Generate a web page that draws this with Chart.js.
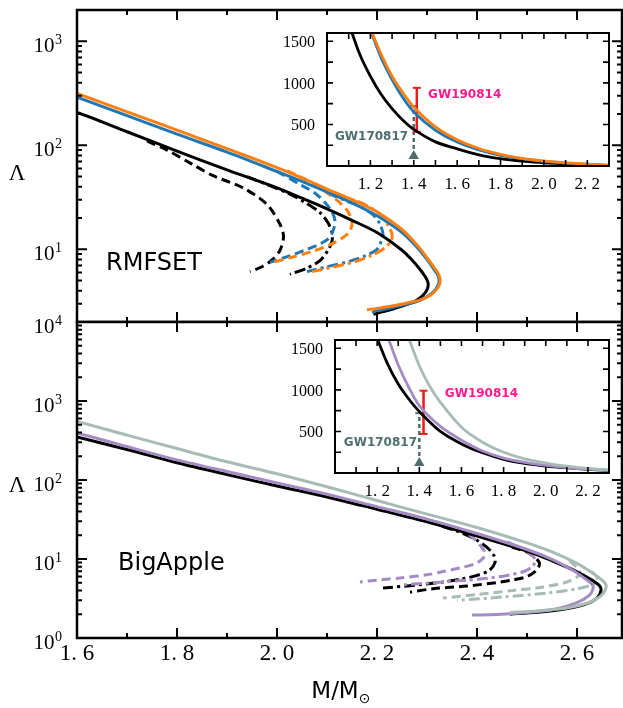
<!DOCTYPE html>
<html>
<head>
<meta charset="utf-8">
<script src="https://cdn.jsdelivr.net/npm/chart.js@4.4.1/dist/chart.umd.min.js"></script>
<style>
html, body { margin: 0; padding: 0; background: #fff; overflow: hidden; }
#wrap { position: relative; width: 623px; height: 708px; }
canvas { position: absolute; left: 0; top: 0; }
</style>
</head>
<body>
<div id="wrap">
	<canvas id="graficoRmfset" width="623" height="708"></canvas>
	<canvas id="graficoBigApple" width="623" height="708"></canvas>
	<canvas id="insetRmfset" width="623" height="708"></canvas>
	<canvas id="insetBigApple" width="623" height="708"></canvas>
</div>
<script>
// ticks
var massTicksMain = [1.6, 1.8, 2.0, 2.2, 2.4, 2.6];
var massTicksInset = [1.2, 1.4, 1.6, 1.8, 2.0, 2.2];
var lambdaTicksInset = [500, 1000, 1500];
var expTicksRmfset = [1, 2, 3];
var expTicksBigApple = [0, 1, 2, 3, 4];

// RMFSET  [M/Msun, Lambda]
var rmfsetBlack = [[1.1,1720],[1.15,1350],[1.2,1080],[1.25,860],[1.3,690],[1.35,550],[1.4,440],[1.5,290],[1.6,207],[1.7,135],[1.8,88],[1.9,58],[2.0,39],[2.05,31],[2.1,24.5],[2.15,19],[2.2,14.5],[2.25,9.8],[2.27,7.9],[2.285,6.5],[2.296,5.5],[2.302,4.8],[2.301,4.2],[2.294,3.7],[2.28,3.25],[2.26,2.95],[2.235,2.7],[2.21,2.5],[2.193,2.37]];
var rmfsetBlue = [[1.19,1720],[1.2,1640],[1.25,1300],[1.3,1040],[1.35,820],[1.4,650],[1.5,430],[1.6,290],[1.7,193],[1.8,128],[1.9,86],[2.0,56],[2.05,45],[2.1,35.5],[2.15,28],[2.2,21],[2.25,14.5],[2.28,10.5],[2.3,8],[2.313,6.5],[2.321,5.7],[2.324,5.1],[2.322,4.5],[2.314,3.95],[2.3,3.5],[2.28,3.15],[2.25,2.9],[2.22,2.68],[2.19,2.48]];
var rmfsetOrange = [[1.19,1760],[1.2,1660],[1.25,1340],[1.3,1080],[1.35,880],[1.4,710],[1.5,470],[1.6,316],[1.7,210],[1.8,140],[1.9,93],[2.0,61],[2.05,48.5],[2.1,38],[2.15,30],[2.2,23],[2.25,15.5],[2.28,11],[2.3,8.3],[2.313,6.8],[2.322,5.9],[2.326,5.2],[2.325,4.6],[2.318,4.05],[2.306,3.6],[2.285,3.25],[2.26,3.05],[2.23,2.85],[2.2,2.7],[2.18,2.62]];
var rmfsetBlackDash = [[1.74,110],[1.78,90],[1.83,66],[1.872,51],[1.932,39],[1.98,27],[2.006,17.4],[2.013,13.3],[2.006,9.8],[1.99,7.9],[1.97,6.8],[1.946,6.1]];
var rmfsetBlackDashDot = [[1.94,50],[1.98,42],[2.026,34],[2.06,27.5],[2.086,22.5],[2.102,18],[2.11,14.5],[2.11,12],[2.102,9.8],[2.086,7.8],[2.06,6.6],[2.026,5.75]];
var rmfsetBlueDash = [[2.0,56],[2.05,41],[2.075,35],[2.095,28.5],[2.11,23],[2.116,18.5],[2.112,15],[2.104,12.8],[2.085,11.2],[2.06,10],[2.03,8.8],[1.986,7.5]];
var rmfsetOrangeDash = [[2.02,57],[2.06,46],[2.1,35],[2.126,28],[2.142,23],[2.15,18.5],[2.146,15],[2.132,13],[2.11,11.3],[2.072,9.6],[2.03,8.4],[1.992,7.5]];
var rmfsetBlueDashDot = [[2.1,35],[2.14,29],[2.166,26],[2.192,21.5],[2.206,17.5],[2.212,14],[2.21,12.5],[2.2,10],[2.18,8.8],[2.146,7.7],[2.1,6.8],[2.06,6.1]];
var rmfsetOrangeDashDot = [[2.12,34],[2.15,30],[2.172,27.5],[2.206,21.7],[2.222,17],[2.23,14],[2.228,12],[2.212,10],[2.19,8.8],[2.16,7.7],[2.115,6.8],[2.07,6.1]];

// BigApple  [M/Msun, Lambda]
var bigAppleBlack = [[1.19,1700],[1.2,1620],[1.25,1310],[1.3,1070],[1.35,890],[1.4,740],[1.5,500],[1.6,350],[1.7,243],[1.8,165],[1.9,117],[2.0,84],[2.1,61],[2.2,42.5],[2.3,29.5],[2.4,19.5],[2.5,12.6],[2.55,9.5],[2.6,6.9],[2.63,5.4],[2.645,4.6],[2.648,4.0],[2.64,3.2],[2.615,2.65],[2.57,2.3],[2.52,2.12],[2.466,2.0]];
var bigApplePurple = [[1.25,1640],[1.3,1300],[1.35,1030],[1.4,810],[1.5,560],[1.6,395],[1.7,265],[1.8,180],[1.9,128],[2.0,92],[2.1,66],[2.2,46],[2.3,32],[2.4,21],[2.5,13.2],[2.55,9.9],[2.59,7.3],[2.615,5.7],[2.63,4.8],[2.632,4.2],[2.625,3.5],[2.6,2.8],[2.56,2.35],[2.5,2.1],[2.44,1.98],[2.39,1.95]];
var bigAppleGrey = [[1.34,1700],[1.35,1620],[1.4,1290],[1.45,1040],[1.5,850],[1.6,550],[1.7,370],[1.8,250],[1.9,170],[2.0,120],[2.1,82],[2.2,55],[2.3,37],[2.4,25],[2.5,16],[2.55,12.3],[2.6,8.8],[2.63,6.7],[2.65,5.4],[2.658,4.7],[2.656,4.0],[2.645,3.3],[2.62,2.75],[2.58,2.4],[2.52,2.2],[2.466,2.1]];
var bigApplePurpleDash = [[2.36,25],[2.39,19],[2.406,15],[2.416,12],[2.412,10.2],[2.398,8.8],[2.366,7.7],[2.33,6.9],[2.3,6.3],[2.246,5.75],[2.2,5.4],[2.166,5.1]];
var bigAppleBlackDashDot = [[2.33,26],[2.36,22.5],[2.395,18],[2.42,14],[2.434,11],[2.436,9],[2.425,7.2],[2.4,6.2],[2.37,5.6],[2.332,5.1],[2.266,4.6],[2.212,4.3]];
var bigApplePurpleDashDot = [[2.46,16.5],[2.49,13.5],[2.508,11.5],[2.516,9.8],[2.512,8.2],[2.495,7],[2.46,6.2],[2.42,5.7],[2.38,5.4],[2.312,5.0],[2.252,4.7]];
var bigAppleBlackDash = [[2.47,14.2],[2.5,12.2],[2.518,10.2],[2.525,8.8],[2.52,7.3],[2.5,6.0],[2.47,5.4],[2.446,5.1],[2.38,4.55],[2.312,4.2],[2.266,3.8]];
var bigAppleGreyDash = [[2.585,9.5],[2.6,7.8],[2.606,6.8],[2.6,5.9],[2.575,5.0],[2.53,4.4],[2.472,4.0],[2.4,3.55],[2.332,3.2]];
var bigAppleGreyDashDot = [[2.628,7.0],[2.64,5.9],[2.636,4.9],[2.6,4.2],[2.54,3.7],[2.45,3.3],[2.36,3.0]];

// constraints at 1.4 Msun
var gw170817 = [[1.4,120],[1.4,720]];
var gw190814Rmfset = [[1.414,410],[1.414,940]];
var gw190814BigApple = [[1.42,470],[1.42,990]];

var PRETO = '#000000', AZUL = '#1f77b4', LARANJA = '#ff7f0e', ROXO = '#a58bc3', CINZA = '#a7bcb6';
var TRACO = [9, 5], TRACO_PONTO = [11, 4, 3, 4];
var SERIF = '"Liberation Serif", "DejaVu Serif", serif';
var SANS = '"DejaVu Sans", "Liberation Sans", sans-serif';

function pontos(arr) {
	return arr.map(function(p) { return { x: p[0], y: p[1] }; });
}

function curva(arr, cor, dash, largura) {
	return {
		data: pontos(arr),
		borderColor: cor,
		borderWidth: largura || 3,
		borderDash: dash || [],
		showLine: true,
		pointRadius: 0,
		fill: false,
		tension: 0.3
	};
}

function faixa(arr, cor, dash, estilos) {
	return {
		data: pontos(arr),
		borderColor: cor,
		backgroundColor: cor,
		borderWidth: 2.5,
		borderDash: dash || [],
		showLine: true,
		tension: 0,
		pointStyle: estilos || 'line',
		pointRadius: 4,
		pointBorderColor: cor,
		pointBackgroundColor: cor,
		pointBorderWidth: 2
	};
}

function passos(ini, fim, passo) {
	var r = [];
	for (var v = ini; v <= fim + 1e-9; v += passo) r.push(Math.round(v * 1000) / 1000);
	return r;
}

function minLog(lo, hi) {
	var r = [];
	for (var e = -1; e <= 5; e++) {
		for (var m = 2; m <= 9; m++) {
			var v = m * Math.pow(10, e);
			if (v >= lo && v <= hi) r.push(v);
		}
	}
	return r;
}

var moldura = {
	id: 'moldura',
	beforeDatasetsDraw: function(chart) {
		var a = chart.chartArea, ctx = chart.ctx;
		ctx.save();
		ctx.fillStyle = '#fff';
		ctx.fillRect(a.left, a.top, a.right - a.left, a.bottom - a.top);
		ctx.restore();
	},
	afterDraw: function(chart, args, o) {
		var ctx = chart.ctx, a = chart.chartArea, sx = chart.scales.x, sy = chart.scales.y;
		ctx.save();
		ctx.strokeStyle = '#000';
		ctx.lineWidth = o.tickWidth;
		ctx.beginPath();
		function tx(v, len) {
			var px = sx.getPixelForValue(v);
			if (px < a.left + 1 || px > a.right - 1) return;
			ctx.moveTo(px, a.bottom); ctx.lineTo(px, a.bottom - len);
			ctx.moveTo(px, a.top); ctx.lineTo(px, a.top + len);
		}
		function ty(v, len) {
			var py = sy.getPixelForValue(v);
			if (py < a.top + 1 || py > a.bottom - 1) return;
			ctx.moveTo(a.left, py); ctx.lineTo(a.left + len, py);
			ctx.moveTo(a.right, py); ctx.lineTo(a.right - len, py);
		}
		o.xMinor.forEach(function(v) { tx(v, o.minorLen); });
		o.xMajor.forEach(function(v) { tx(v, o.majorLen); });
		o.yMinor.forEach(function(v) { ty(v, o.minorLen); });
		o.yMajor.forEach(function(v) { ty(v, o.majorLen); });
		ctx.stroke();
		ctx.lineWidth = o.frameWidth;
		ctx.strokeRect(a.left, a.top, a.right - a.left, a.bottom - a.top);

		ctx.fillStyle = '#000';
		ctx.textBaseline = 'alphabetic';
		if (o.xLabels) {
			ctx.font = o.xFont;
			ctx.textAlign = 'center';
			o.xLabels.forEach(function(v) {
				ctx.fillText(v.toFixed(1).replace('.', '. '), sx.getPixelForValue(v), a.bottom + o.xOffset);
			});
		}
		if (o.yLabels) {
			ctx.font = o.yFont;
			ctx.textAlign = 'right';
			o.yLabels.forEach(function(v) {
				ctx.fillText(String(v), a.left - o.yOffset, sy.getPixelForValue(v) + o.yShift);
			});
		}
		if (o.yPow) {
			o.yPow.forEach(function(e) {
				var py = sy.getPixelForValue(Math.pow(10, e));
				var xr = a.left - 15;
				ctx.font = '14px ' + SERIF;
				var we = ctx.measureText(String(e)).width;
				ctx.textAlign = 'left';
				ctx.fillText(String(e), xr - we, py + 3);
				ctx.font = '21px ' + SERIF;
				var wb = ctx.measureText('10').width;
				ctx.fillText('10', xr - we - wb - 0.5, py + 11);
			});
		}
		(o.notes || []).forEach(function(n) {
			ctx.font = n.font;
			ctx.fillStyle = n.color;
			ctx.textAlign = n.align;
			ctx.textBaseline = 'middle';
			ctx.fillText(n.text, sx.getPixelForValue(n.x), sy.getPixelForValue(n.y));
		});
		(o.texts || []).forEach(function(t) {
			ctx.font = t.font;
			ctx.fillStyle = '#000';
			ctx.textAlign = t.align;
			ctx.textBaseline = 'alphabetic';
			ctx.fillText(t.text, t.x, t.y);
		});
		if (o.massTitle) {
			ctx.font = '23px ' + SANS;
			ctx.textAlign = 'left';
			var w1 = ctx.measureText('M/M').width;
			var x0 = o.massTitle[0] - (w1 + 12) / 2;
			ctx.fillText('M/M', x0, o.massTitle[1]);
			ctx.font = '14px ' + SANS;
			ctx.fillText('\u2299', x0 + w1, o.massTitle[1] + 5);
		}
		ctx.restore();
	}
};

function opcoes(padding, xMin, xMax, yType, yMin, yMax, frame) {
	return {
		responsive: false,
		animation: false,
		devicePixelRatio: 1,
		events: [],
		layout: { padding: padding },
		plugins: { legend: { display: false }, tooltip: { enabled: false }, moldura: frame },
		scales: {
			x: { type: 'linear', display: false, min: xMin, max: xMax },
			y: { type: yType, display: false, min: yMin, max: yMax }
		}
	};
}

var xMinorMain = passos(1.6, 2.7, 0.1);

new Chart(document.getElementById('graficoRmfset'), {
	type: 'scatter',
	plugins: [moldura],
	data: {
		datasets: [
			curva(rmfsetOrange, LARANJA),
			curva(rmfsetBlue, AZUL),
			curva(rmfsetBlack, PRETO),
			curva(rmfsetOrangeDash, LARANJA, TRACO),
			curva(rmfsetBlueDash, AZUL, TRACO),
			curva(rmfsetBlackDash, PRETO, TRACO),
			curva(rmfsetOrangeDashDot, LARANJA, TRACO_PONTO),
			curva(rmfsetBlueDashDot, AZUL, TRACO_PONTO),
			curva(rmfsetBlackDashDot, PRETO, TRACO_PONTO)
		]
	},
	options: opcoes({ left: 77, top: 10, right: 1, bottom: 386 }, 1.6, 2.69, 'logarithmic', 2, 2000, {
		xMajor: massTicksMain, xMinor: xMinorMain,
		yMajor: expTicksRmfset.map(function(e) { return Math.pow(10, e); }), yMinor: minLog(2, 2000),
		majorLen: 10, minorLen: 5, tickWidth: 2, frameWidth: 2.5,
		yPow: expTicksRmfset,
		texts: [
			{ text: '\u039B', x: 17, y: 180, font: '23px ' + SERIF, align: 'center' },
			{ text: 'RMFSET', x: 106, y: 270, font: '24px ' + SANS, align: 'left' }
		]
	})
});

new Chart(document.getElementById('graficoBigApple'), {
	type: 'scatter',
	plugins: [moldura],
	data: {
		datasets: [
			curva(bigAppleGrey, CINZA),
			curva(bigApplePurple, ROXO),
			curva(bigAppleBlack, PRETO),
			curva(bigAppleGreyDash, CINZA, TRACO),
			curva(bigAppleGreyDashDot, CINZA, TRACO_PONTO),
			curva(bigApplePurpleDash, ROXO, TRACO),
			curva(bigApplePurpleDashDot, ROXO, TRACO_PONTO),
			curva(bigAppleBlackDash, PRETO, TRACO),
			curva(bigAppleBlackDashDot, PRETO, TRACO_PONTO)
		]
	},
	options: opcoes({ left: 77, top: 322, right: 1, bottom: 70 }, 1.6, 2.69, 'logarithmic', 1, 10000, {
		xMajor: massTicksMain, xMinor: xMinorMain,
		yMajor: expTicksBigApple.map(function(e) { return Math.pow(10, e); }), yMinor: minLog(1, 10000),
		majorLen: 10, minorLen: 5, tickWidth: 2, frameWidth: 2.5,
		yPow: expTicksBigApple,
		xLabels: massTicksMain, xFont: '23px ' + SERIF, xOffset: 22,
		massTitle: [341, 698],
		texts: [
			{ text: '\u039B', x: 17, y: 492, font: '23px ' + SERIF, align: 'center' },
			{ text: 'BigApple', x: 118, y: 570, font: '24px ' + SANS, align: 'left' }
		]
	})
});

function inset(id, padding, datasets, gw190814, notes) {
	datasets.push(faixa(gw190814, '#f01818'));
	datasets.push(faixa(gw170817, '#4d6e6e', [4, 3], ['triangle', 'line']));
	new Chart(document.getElementById(id), {
		type: 'scatter',
		plugins: [moldura],
		data: { datasets: datasets },
		options: opcoes(padding, 1.0, 2.3, 'linear', 0, 1600, {
			xMajor: passos(1.1, 2.2, 0.1), xMinor: [],
			yMajor: passos(250, 1500, 250), yMinor: [],
			majorLen: 6, minorLen: 6, tickWidth: 1.6, frameWidth: 2,
			xLabels: massTicksInset, xFont: '17px ' + SERIF, xOffset: 23,
			yLabels: lambdaTicksInset, yFont: '16px ' + SERIF, yOffset: 12, yShift: 6,
			notes: notes
		})
	});
}

inset('insetRmfset', { left: 327, top: 33, right: 14, bottom: 542 }, [
	curva(rmfsetOrange, LARANJA, null, 2.8),
	curva(rmfsetBlue, AZUL, null, 2.8),
	curva(rmfsetBlack, PRETO, null, 2.8)
], gw190814Rmfset, [
	{ text: 'GW190814', x: 1.466, y: 860, color: '#ff1a8c', align: 'left', font: 'bold 12px ' + SANS },
	{ text: 'GW170817', x: 1.374, y: 345, color: '#4d6e6e', align: 'right', font: 'bold 12px ' + SANS }
]);

inset('insetBigApple', { left: 335, top: 340, right: 14, bottom: 235 }, [
	curva(bigAppleGrey, CINZA, null, 2.8),
	curva(bigApplePurple, ROXO, null, 2.8),
	curva(bigAppleBlack, PRETO, null, 2.8)
], gw190814BigApple, [
	{ text: 'GW190814', x: 1.521, y: 948, color: '#ff1a8c', align: 'left', font: 'bold 12px ' + SANS },
	{ text: 'GW170817', x: 1.389, y: 360, color: '#4d6e6e', align: 'right', font: 'bold 12px ' + SANS }
]);
</script>
</body>
</html>
